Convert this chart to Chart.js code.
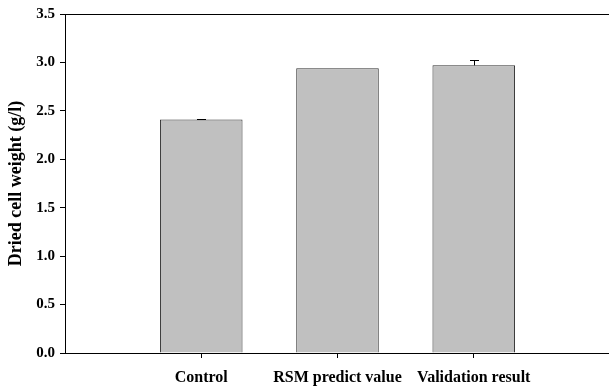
<!DOCTYPE html>
<html>
<head>
<meta charset="utf-8">
<script src="https://cdn.jsdelivr.net/npm/chart.js@4.4.0/dist/chart.umd.min.js"></script>
<style>
  html, body { margin: 0; padding: 0; background: #fff; overflow: hidden; }
</style>
</head>
<body>
<canvas id="dcw" width="620" height="392"></canvas>
<script>
// blank slots at both ends so the bars sit where they do in the original plot
const categories = ['', 'Control', 'RSM predict value', 'Validation result', ''];
const dcw_values = [null, 2.41, 2.94, 2.97, null];
const dcw_errors = [null, 0.01, 0, 0.05, null];
const y_ticks = [0, 0.5, 1, 1.5, 2, 2.5, 3, 3.5];

const serif = 'Liberation Serif';

// draws the upper half of each error bar with a small cap
const errorBars = {
  id: 'errorBars',
  afterDatasetsDraw(chart) {
    const ctx = chart.ctx;
    const meta = chart.getDatasetMeta(0);
    const yScale = chart.scales.y;
    ctx.save();
    ctx.strokeStyle = '#000';
    ctx.lineWidth = 1;
    meta.data.forEach(function(bar, i) {
      const v = dcw_values[i];
      const e = dcw_errors[i];
      if (v == null || !e) return;
      const x = Math.round(bar.x) + 0.5;
      const yTop = Math.round(yScale.getPixelForValue(v + e)) + 0.5;
      const yBase = yScale.getPixelForValue(v);
      ctx.beginPath();
      ctx.moveTo(x, yBase);
      ctx.lineTo(x, yTop);
      ctx.moveTo(x - 4.5, yTop);
      ctx.lineTo(x + 4.5, yTop);
      ctx.stroke();
    });
    ctx.restore();
  }
};

// no tick marks under the empty end slots
const hideEnds = function(c) {
  return (c.index === 0 || c.index === categories.length - 1) ? 'rgba(0,0,0,0)' : '#000';
};

const dcw_config = {
  type: 'bar',
  data: {
    labels: categories,
    datasets: [{
      data: dcw_values,
      backgroundColor: '#c0c0c0',
      borderColor: '#333',
      borderWidth: 1,
      barPercentage: 0.606,
      categoryPercentage: 1
    }]
  },
  options: {
    responsive: false,
    animation: false,
    layout: { padding: { right: 7 } },
    plugins: { legend: { display: false }, tooltip: { enabled: false } },
    scales: {
      x: {
        type: 'category',
        offset: false,
        grid: { offset: false, drawOnChartArea: false, tickLength: 5, color: hideEnds },
        border: { color: '#000', width: 1 },
        ticks: {
          padding: 10,
          maxRotation: 0,
          autoSkip: false,
          color: '#000',
          font: { family: serif, size: 16, weight: 'bold' }
        },
        afterFit: function(s) { s.height = 39; }
      },
      xTop: {
        type: 'linear',
        position: 'top',
        grid: { display: false },
        border: { display: true, color: '#000', width: 1 },
        ticks: { display: false },
        afterFit: function(s) { s.height = 13; }
      },
      y: {
        min: 0,
        max: 3.5,
        afterBuildTicks: function(s) { s.ticks = y_ticks.map(v => ({ value: v })); },
        grid: { drawOnChartArea: false, tickLength: 5, color: '#000' },
        border: { color: '#000', width: 1 },
        ticks: {
          padding: 5,
          color: '#000',
          font: { family: serif, size: 15, weight: 'bold' },
          callback: function(v) { return Number(v).toFixed(1); }
        },
        title: {
          display: true,
          text: 'Dried cell weight (g/l)',
          color: '#000',
          padding: { top: 6, bottom: 0 },
          font: { family: serif, size: 18, weight: 'bold' }
        },
        afterFit: function(s) { s.width = 65; }
      }
    }
  },
  plugins: [errorBars]
};

var dcwChart = new Chart(document.getElementById('dcw'), dcw_config);
</script>
</body>
</html>
